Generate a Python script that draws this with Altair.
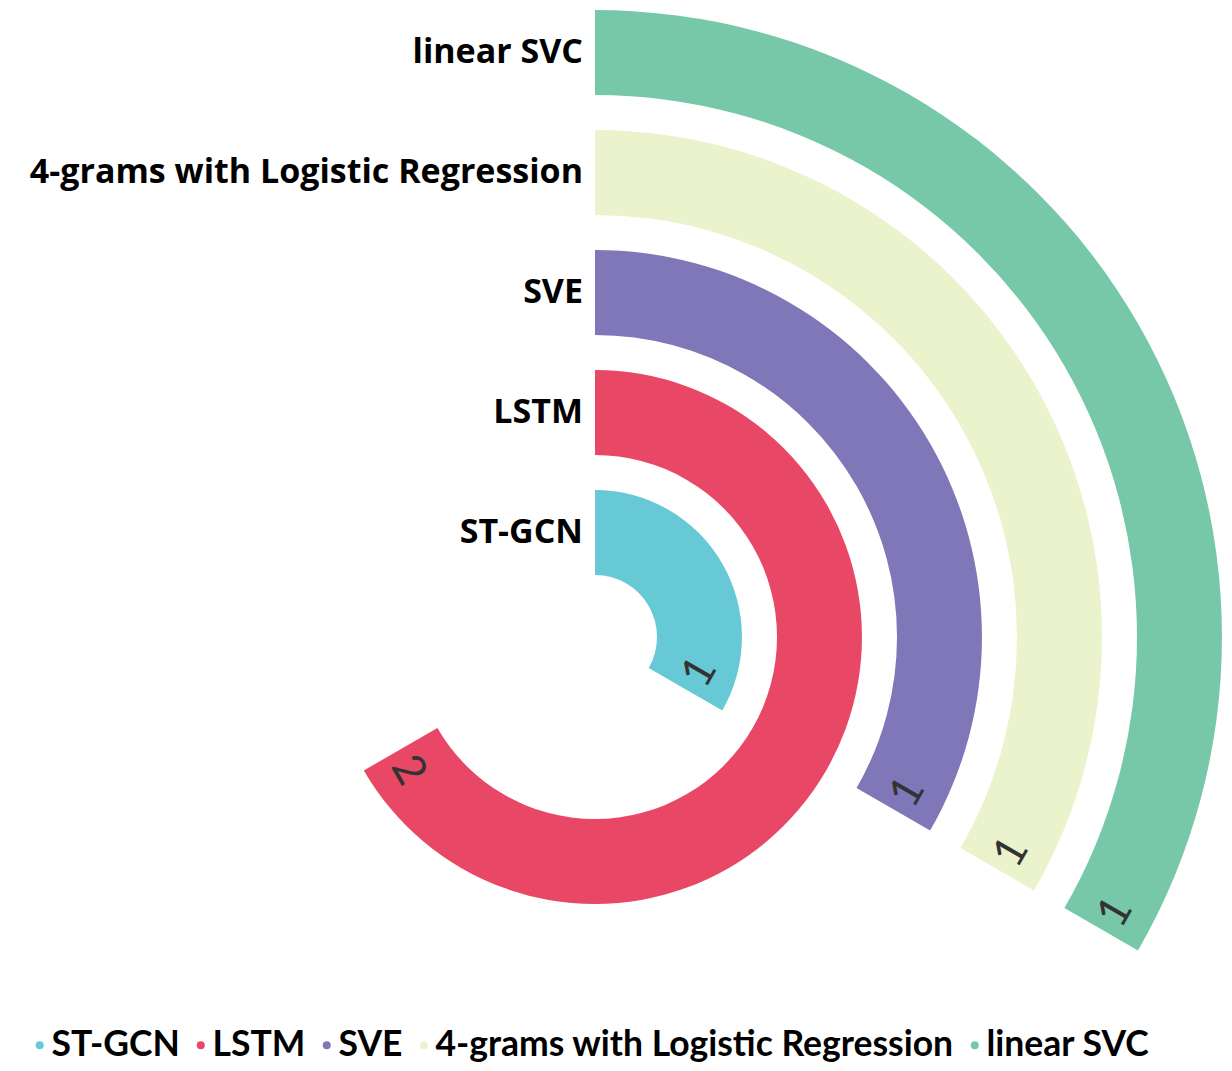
import math
import altair as alt
import pandas as pd

categories = ["ST-GCN", "LSTM", "SVE", "4-grams with Logistic Regression", "linear SVC"]
values = [1, 2, 1, 1, 1]
colors = ["#67c9d5", "#e84866", "#7f77b8", "#ebf3cc", "#76c8a8"]

df = pd.DataFrame({"cat": categories, "value": values, "order": list(range(len(categories)))})

CX, CY = 587, 629
theta_scale = alt.Scale(domain=[0, 3], range=[0, 2 * math.pi])
radius_scale = alt.Scale(domain=[0, 5], range=[62, 662], zero=False)
color_scale = alt.Scale(domain=categories, range=colors)

base = alt.Chart(df).transform_calculate(
    zero="0",
    r1="datum.order",
    r2="datum.order + 0.708",
    rmid="datum.order + 0.354",
    rlab="datum.order + 0.39",
    ang="(datum.value * 120 + 180) % 360",
)

arcs = base.mark_arc(stroke=None).encode(
    x=alt.value(CX),
    y=alt.value(CY),
    theta=alt.Theta("value:Q", scale=theta_scale, stack=None),
    theta2=alt.Theta2("zero:Q"),
    radius=alt.Radius("r2:Q", scale=radius_scale),
    radius2=alt.Radius2("r1:Q"),
    color=alt.Color(
        "cat:N",
        scale=color_scale,
        sort=categories,
        legend=alt.Legend(
            title=None,
            orient="none",
            direction="horizontal",
            legendX=14,
            legendY=1019,
            symbolType="circle",
            symbolSize=64,
            symbolStrokeWidth=0,
            labelFont="Lato",
            labelFontSize=35.5,
            labelFontWeight="bold",
            labelColor="#000000",
            labelOffset={"expr": "-6"},
            columnPadding=3,
            labelLimit=1000,
        ),
    ),
)

cat_labels = base.mark_text(
    align="right", baseline="middle", dx=-12, font="Open Sans",
    fontSize=34, fontWeight="bold", color="#000000",
).encode(
    x=alt.value(CX),
    y=alt.value(CY),
    theta=alt.Theta("zero:Q", scale=theta_scale, stack=None),
    radius=alt.Radius("rmid:Q", scale=radius_scale),
    text="cat:N",
)

val_labels = base.mark_text(
    align="center", baseline="middle", dx=22, font="Lato",
    fontSize=44, color="#333333",
).encode(
    x=alt.value(CX),
    y=alt.value(CY),
    theta=alt.Theta("value:Q", scale=theta_scale, stack=None),
    radius=alt.Radius("rlab:Q", scale=radius_scale),
    angle=alt.Angle("ang:Q", scale=None),
    text="value:Q",
)

chart = alt.layer(arcs, cat_labels, val_labels).properties(
    width=1216, height=1000, padding=0
).configure_view(stroke=None)

chart.save("out.html", embed_options={"renderer": "svg", "actions": False})
